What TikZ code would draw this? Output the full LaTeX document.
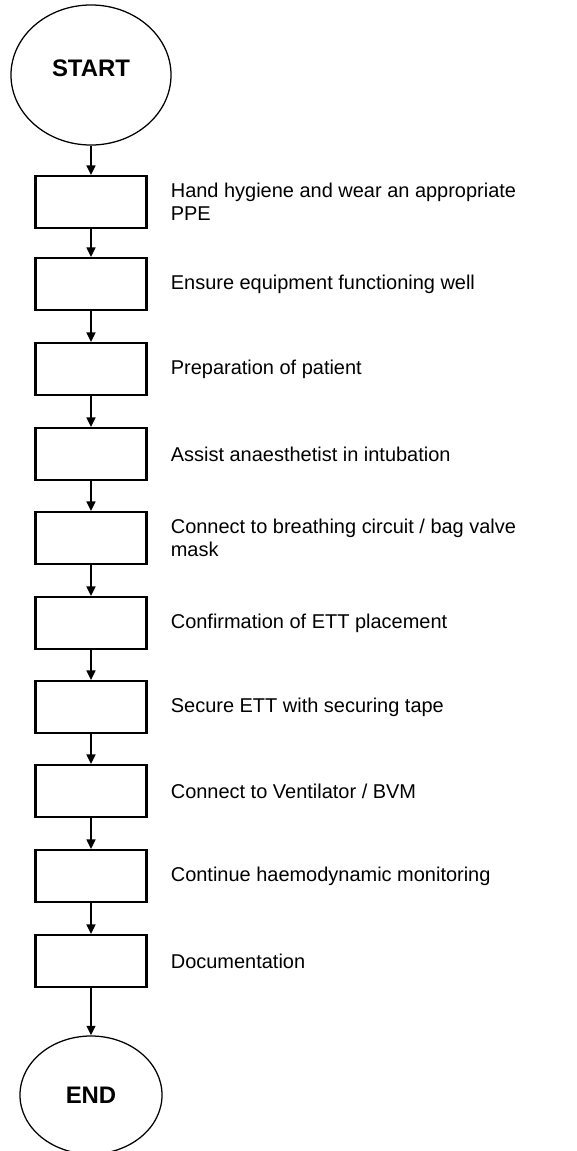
\documentclass[tikz,border=0pt]{standalone}
\usepackage{fontspec}
\setmainfont{Liberation Sans}
\usepackage{tikz}
\usetikzlibrary{shapes.geometric,positioning,arrows.meta}

\tikzset{
  stepbox/.style={draw, line width=1.5pt, minimum width=2.775cm, minimum height=1.3cm},
  steptext/.style={inner sep=0pt, align=left, font=\fontsize{14.2}{16.4}\selectfont},
  terminal/.style={ellipse, draw, line width=0.9pt, font=\fontsize{17}{20}\selectfont\bfseries},
  flow/.style={line width=1.5pt, -{Triangle[length=2.4mm, width=2.2mm]}}
}

\begin{document}
\begin{tikzpicture}[x=0.025cm, y=-0.025cm]
  \useasboundingbox (0,0) rectangle (577,1151);

  % start and end
  \node[terminal, minimum width=4cm, minimum height=3.5cm, text depth=0.35cm] (start) at (91,75) {START};
  \node[terminal, minimum width=3.55cm, minimum height=2.95cm] (end) at (91,1095) {END};

  % steps
  \node[stepbox] (s1) at (91,202) {};
  \node[steptext, right=0.575cm of s1] (t1) {Hand hygiene and wear an appropriate\\PPE};
  \node[stepbox] (s2) at (91,284) {};
  \node[steptext, right=0.575cm of s2] (t2) {Ensure equipment functioning well};
  \node[stepbox] (s3) at (91,369) {};
  \node[steptext, right=0.575cm of s3] (t3) {Preparation of patient};
  \node[stepbox] (s4) at (91,454) {};
  \node[steptext, right=0.575cm of s4] (t4) {Assist anaesthetist in intubation};
  \node[stepbox] (s5) at (91,538) {};
  \node[steptext, right=0.575cm of s5] (t5) {Connect to breathing circuit / bag valve\\mask};
  \node[stepbox] (s6) at (91,623) {};
  \node[steptext, right=0.575cm of s6] (t6) {Confirmation of ETT placement};
  \node[stepbox] (s7) at (91,707) {};
  \node[steptext, right=0.575cm of s7] (t7) {Secure ETT with securing tape};
  \node[stepbox] (s8) at (91,791) {};
  \node[steptext, right=0.575cm of s8] (t8) {Connect to Ventilator / BVM};
  \node[stepbox] (s9) at (91,876) {};
  \node[steptext, right=0.575cm of s9] (t9) {Continue haemodynamic monitoring};
  \node[stepbox] (s10) at (91,961) {};
  \node[steptext, right=0.575cm of s10] (t10) {Documentation};

  % arrows
  \draw[flow] (start) -- (s1);
  \draw[flow] (s1) -- (s2);
  \draw[flow] (s2) -- (s3);
  \draw[flow] (s3) -- (s4);
  \draw[flow] (s4) -- (s5);
  \draw[flow] (s5) -- (s6);
  \draw[flow] (s6) -- (s7);
  \draw[flow] (s7) -- (s8);
  \draw[flow] (s8) -- (s9);
  \draw[flow] (s9) -- (s10);
  \draw[flow] (s10) -- (end);
\end{tikzpicture}
\end{document}
